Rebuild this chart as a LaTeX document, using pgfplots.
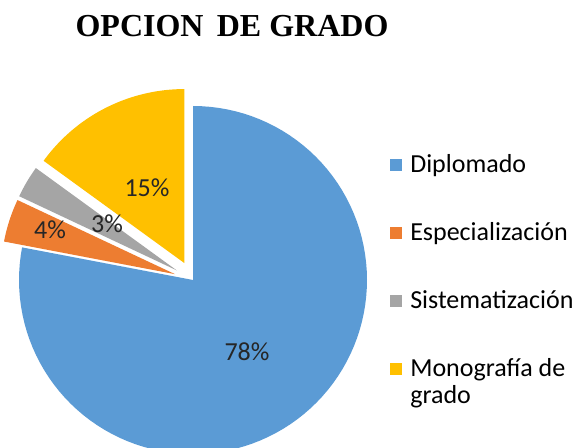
\documentclass[border=0pt]{standalone}
\usepackage{pgfplots}
\pgfplotsset{compat=1.18}
\usepackage{pgfplotstable}
\usepackage{amsmath}
\usepackage{fontspec}
\setmainfont{Carlito}
\newfontfamily\titlefont{Liberation Serif}
\definecolor{cA}{HTML}{5B9BD5}
\definecolor{cB}{HTML}{ED7D31}
\definecolor{cC}{HTML}{A5A5A5}
\definecolor{cD}{HTML}{FFC000}
\pgfplotstableread{
label value
Diplomado 78
Especializacion 4
Sistematizacion 3
Monografia 15
}\piedata
\pgfplotstablegetelem{0}{value}\of\piedata \let\vA\pgfplotsretval
\pgfplotstablegetelem{1}{value}\of\piedata \let\vB\pgfplotsretval
\pgfplotstablegetelem{2}{value}\of\piedata \let\vC\pgfplotsretval
\pgfplotstablegetelem{3}{value}\of\piedata \let\vD\pgfplotsretval
% angles (clockwise from 12 o'clock)
\pgfmathsetmacro\aA{90}
\pgfmathsetmacro\bA{\aA-3.6*\vA}
\pgfmathsetmacro\aB{\bA}
\pgfmathsetmacro\bB{\aB-3.6*\vB}
\pgfmathsetmacro\aC{\bB}
\pgfmathsetmacro\bC{\aC-3.6*\vC}
\pgfmathsetmacro\aD{\bC}
\pgfmathsetmacro\bD{\aD-3.6*\vD}
% centre, radius, explosion
\def\cx{193}\def\cy{167}\def\R{174}\def\ex{19}
\pgfmathsetmacro\xA{\cx}\pgfmathsetmacro\yA{\cy}
\pgfmathsetmacro\xB{\cx+\ex*cos((\aB+\bB)/2)}\pgfmathsetmacro\yB{\cy+\ex*sin((\aB+\bB)/2)}
\pgfmathsetmacro\xC{\cx+\ex*cos((\aC+\bC)/2)}\pgfmathsetmacro\yC{\cy+\ex*sin((\aC+\bC)/2)}
\pgfmathsetmacro\xD{\cx+\ex*cos((\aD+\bD)/2)}\pgfmathsetmacro\yD{\cy+\ex*sin((\aD+\bD)/2)}
\begin{document}
\begin{tikzpicture}
\begin{axis}[
  name=main,
  scale only axis,
  width=435.75pt, height=335.25pt,
  xmin=0, xmax=581, ymin=0, ymax=447,
  axis lines=none,
  variable=\t,
  samples at={-1,0,1,...,100},
  legend image code/.code={\fill[#1] (0pt,-4.5pt) rectangle (9pt,4.5pt);},
  legend style={
    at={(axis cs:390,295)}, anchor=north west,
    draw=none, fill=none, inner sep=0pt,
    font=\fontsize{19.5pt}{20.5pt}\selectfont,
    nodes={inner sep=0pt, text height=15pt, text depth=3.5pt},
    cells={anchor=west},
    row sep=32.5pt, column sep=6pt,
  },
]
\addplot[fill=cA, draw=none]
 ({\xA+ifthenelse(\t<0,0,\R*cos(\aA+\t/100*(\bA-\aA)))},
  {\yA+ifthenelse(\t<0,0,\R*sin(\aA+\t/100*(\bA-\aA)))});
\addlegendentry{Diplomado}
\addplot[fill=cB, draw=none]
 ({\xB+ifthenelse(\t<0,0,\R*cos(\aB+\t/100*(\bB-\aB)))},
  {\yB+ifthenelse(\t<0,0,\R*sin(\aB+\t/100*(\bB-\aB)))});
\addlegendentry{Especialización}
\addplot[fill=cC, draw=none]
 ({\xC+ifthenelse(\t<0,0,\R*cos(\aC+\t/100*(\bC-\aC)))},
  {\yC+ifthenelse(\t<0,0,\R*sin(\aC+\t/100*(\bC-\aC)))});
\addlegendentry{Sistematización}
\addplot[fill=cD, draw=none]
 ({\xD+ifthenelse(\t<0,0,\R*cos(\aD+\t/100*(\bD-\aD)))},
  {\yD+ifthenelse(\t<0,0,\R*sin(\aD+\t/100*(\bD-\aD)))});
\addlegendentry{\smash[b]{\begin{tabular}[t]{@{}l@{}}Monografía de\\grado\end{tabular}}}
\begin{scope}[every node/.style={font=\fontsize{19.5pt}{22pt}\selectfont, text=black!85}]
\node at (axis cs:247,95) {78\%};
\node at (axis cs:147,259) {15\%};
\node at (axis cs:107,223) {3\%};
\node at (axis cs:50,217) {4\%};
\end{scope}
\node[anchor=base, font=\titlefont\bfseries\fontsize{24pt}{28pt}\selectfont]
  at (axis cs:232,410) {OPCION\, DE GRADO};
\end{axis}
\useasboundingbox (main.south west) rectangle (main.north east);
\end{tikzpicture}
\end{document}
